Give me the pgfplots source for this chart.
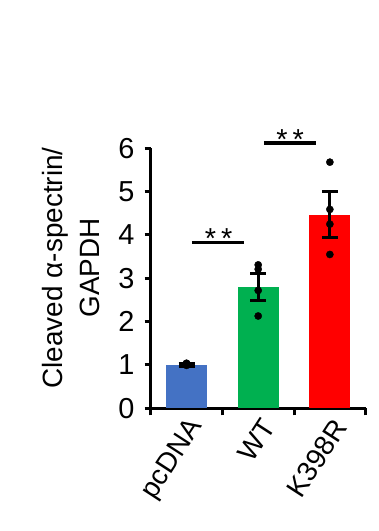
\documentclass[border=0pt]{standalone}
\usepackage{pgfplots}
\pgfplotsset{compat=1.18}
\usepackage{fontspec}
\setmainfont{Liberation Sans}
\definecolor{cblue}{HTML}{4472C4}
\definecolor{cgreen}{HTML}{00B050}
\definecolor{cred}{HTML}{FF0000}
\begin{document}
\begin{tikzpicture}[x=1bp,y=1bp]
\useasboundingbox (0,0) rectangle (378,531);
\begin{axis}[
  at={(150.7bp,122.7bp)}, anchor=south west,
  scale only axis, width=215bp, height=260bp,
  xmin=-0.5, xmax=2.5, ymin=0, ymax=6,
  axis x line*=bottom, axis y line*=left,
  axis line style={line width=3bp, -},
  clip=false,
  xtick={0,1,2}, xticklabels={pcDNA,WT,K398R},
  major x tick style={draw=none},
  minor xtick={-0.5,0.5,1.5,2.5},
  ytick={0,1,2,3,4,5,6},
  tick align=outside,
  major tick length=6bp, minor tick length=7bp,
  tick style={line width=3bp, black},
  /pgf/number format/assume math mode=true,
  yticklabel style={font=\fontsize{29}{30}\selectfont, inner sep=2bp, xshift=-8bp},
  xticklabel style={font=\fontsize{28}{30}\selectfont, rotate=57, anchor=east, inner sep=1bp, yshift=-13bp, xshift=0bp},
  ylabel={Cleaved α-spectrin/\\GAPDH},
  ylabel style={align=center, font=\fontsize{28}{37}\selectfont, at={(rel axis cs:-0.37,0.54)}, anchor=center},
]
\addplot[ybar, bar width=0.57, fill=cblue, draw=none,
  error bars/.cd, y dir=both, y explicit,
  error bar style={line width=3.2bp, black},
  error mark options={rotate=90, mark size=8bp, line width=3.2bp, black}]
  coordinates {(0,1.0) +- (0,0.03)};
\addplot[ybar, bar width=0.57, fill=cgreen, draw=none,
  error bars/.cd, y dir=both, y explicit,
  error bar style={line width=3.2bp, black},
  error mark options={rotate=90, mark size=8bp, line width=3.2bp, black}]
  coordinates {(1,2.80) +- (0,0.31)};
\addplot[ybar, bar width=0.57, fill=cred, draw=none,
  error bars/.cd, y dir=both, y explicit,
  error bar style={line width=3.2bp, black},
  error mark options={rotate=90, mark size=8bp, line width=3.2bp, black}]
  coordinates {(2,4.47) +- (0,0.53)};
\addplot[only marks, mark=*, mark size=3.6bp, black] coordinates {
  (0,0.99) (0,1.02) (0,1.04) (0,1.03)
  (1,3.31) (1,3.21) (1,2.72) (1,2.13)
  (2,5.68) (2,4.59) (2,4.25) (2,3.55)
};
\draw[line width=3.2bp] (axis cs:0.075,3.82) -- (axis cs:0.80,3.82);
\draw[line width=3.2bp] (axis cs:1.08,6.12) -- (axis cs:1.81,6.12);
\node[font=\fontsize{29}{30}\selectfont, anchor=base, yshift=-6bp] at (axis cs:0.447,3.82) {*\kern5bp*};
\node[font=\fontsize{29}{30}\selectfont, anchor=base, yshift=-6bp] at (axis cs:1.447,6.12) {*\kern5bp*};
\end{axis}
\end{tikzpicture}
\end{document}
